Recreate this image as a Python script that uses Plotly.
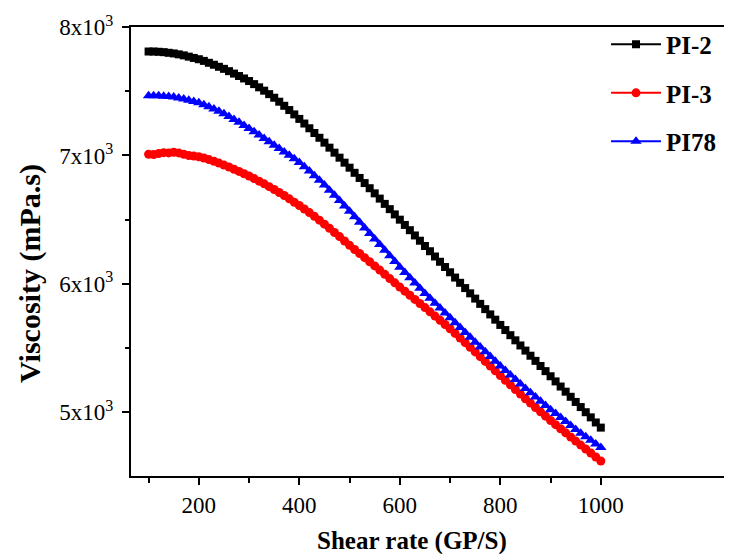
import plotly.graph_objects as go

shear_rate = list(range(100, 1001, 10))

pi2 = [7810, 7810, 7808, 7805, 7800, 7795, 7788, 7780, 7770, 7760, 7750,
       7737, 7722, 7707, 7691, 7675, 7657, 7638, 7619, 7600, 7580,
       7556, 7531, 7505, 7478, 7450, 7419, 7387, 7354, 7320, 7285,
       7249, 7212, 7175, 7138, 7100, 7061, 7022, 6983, 6944, 6905,
       6865, 6825, 6785, 6745, 6705, 6664, 6623, 6582, 6541, 6500,
       6459, 6418, 6377, 6336, 6295, 6254, 6213, 6172, 6131, 6090,
       6049, 6008, 5967, 5926, 5885, 5844, 5803, 5762, 5721, 5680,
       5640, 5600, 5560, 5520, 5480, 5440, 5400, 5360, 5320, 5280,
       5240, 5200, 5160, 5120, 5080, 5040, 5000, 4960, 4920, 4880]

pi3 = [7010, 7008, 7015, 7022, 7020, 7025, 7020, 7010, 7000, 6996, 6990,
       6980, 6968, 6955, 6941, 6925, 6910, 6893, 6876, 6858, 6840,
       6820, 6800, 6779, 6757, 6735, 6712, 6688, 6662, 6636, 6610,
       6583, 6555, 6526, 6496, 6465, 6433, 6400, 6368, 6334, 6300,
       6268, 6236, 6204, 6172, 6140, 6107, 6074, 6041, 6008, 5975,
       5943, 5911, 5879, 5847, 5815, 5782, 5749, 5716, 5683, 5650,
       5614, 5578, 5542, 5506, 5470, 5433, 5396, 5359, 5322, 5285,
       5249, 5213, 5177, 5141, 5105, 5071, 5037, 5003, 4969, 4935,
       4903, 4871, 4839, 4807, 4775, 4744, 4713, 4682, 4651, 4620]

pi78 = [7465, 7466, 7465, 7462, 7459, 7455, 7448, 7440, 7431, 7421, 7410,
        7395, 7379, 7362, 7344, 7325, 7303, 7281, 7258, 7234, 7210,
        7185, 7159, 7133, 7107, 7080, 7054, 7028, 7001, 6974, 6945,
        6913, 6879, 6843, 6807, 6770, 6730, 6690, 6649, 6607, 6565,
        6522, 6479, 6436, 6393, 6350, 6306, 6262, 6218, 6174, 6130,
        6088, 6047, 6006, 5965, 5925, 5887, 5849, 5811, 5773, 5735,
        5697, 5659, 5621, 5583, 5545, 5508, 5471, 5434, 5397, 5360,
        5325, 5290, 5255, 5220, 5185, 5152, 5119, 5086, 5053, 5020,
        4989, 4958, 4927, 4896, 4865, 4837, 4809, 4781, 4753, 4725]

series_names = ["PI-2", "PI-3", "PI78"]
x_ticks = [200, 400, 600, 800, 1000]
x_minor = [100, 300, 500, 700, 900]
y_ticks = [5000, 6000, 7000, 8000]
y_minor = [4500, 5500, 6500, 7500]
y_tick_text = ["5x10<sup>3</sup>", "6x10<sup>3</sup>", "7x10<sup>3</sup>", "8x10<sup>3</sup>"]
x_title = "Shear rate (GP/S)"
y_title = "Viscosity (mPa.s)"

FONT = "Liberation Serif, Times New Roman, serif"

fig = go.Figure()
styles = [
    (pi2, "#000000", "square", 8),
    (pi3, "#ff0000", "circle", 9),
    (pi78, "#0000ff", "triangle-up", 10),
]
for name, (vals, color, sym, size) in zip(series_names, styles):
    fig.add_trace(go.Scatter(
        x=shear_rate, y=vals, name=name, mode="lines+markers",
        line=dict(color=color, width=2),
        marker=dict(symbol=sym, size=size, color=color),
        legendgroup=name,
    ))

fig.update_layout(
    width=732, height=554,
    margin=dict(l=123, r=0, t=19, b=86),
    paper_bgcolor="white", plot_bgcolor="white",
    font=dict(family=FONT, color="black"),
    showlegend=True,
    legend=dict(
        x=0.78, y=1.012, xanchor="left", yanchor="top",
        font=dict(family=FONT, size=25, color="black", weight="bold"),
        itemwidth=50, tracegroupgap=13,
        bgcolor="rgba(0,0,0,0)",
    ),
    annotations=[
        dict(text=x_title, xref="paper", yref="paper", x=0.4614, y=-0.145,
             xanchor="center", yanchor="middle", showarrow=False,
             font=dict(family=FONT, size=25, color="black", weight="bold")),
        dict(text=y_title, xref="paper", yref="paper", x=-0.166, y=0.452,
             xanchor="center", yanchor="middle", showarrow=False, textangle=-90,
             font=dict(family=FONT, size=30, color="black", weight="bold")),
    ],
)
fig.update_xaxes(
    range=[65, 1277], tickvals=x_ticks, ticktext=[str(v) for v in x_ticks],
    showline=True, linecolor="black", linewidth=2, mirror=True,
    ticks="outside", ticklen=7, tickwidth=2, tickcolor="black",
    minor=dict(tickvals=x_minor, ticks="outside", ticklen=5, tickwidth=2, tickcolor="black"),
    showgrid=False, zeroline=False,
    tickfont=dict(family=FONT, size=23, color="black"),
)
fig.update_yaxes(
    range=[4503, 8001], tickvals=y_ticks, ticktext=y_tick_text,
    showline=True, linecolor="black", linewidth=2, mirror=False,
    ticks="outside", ticklen=7, tickwidth=2, tickcolor="black",
    minor=dict(tickvals=y_minor, ticks="outside", ticklen=4, tickwidth=2, tickcolor="black"),
    showgrid=False, zeroline=False,
    tickfont=dict(family=FONT, size=23, color="black"),
    ticklabelstandoff=4,
)

fig.write_html("out.html")
